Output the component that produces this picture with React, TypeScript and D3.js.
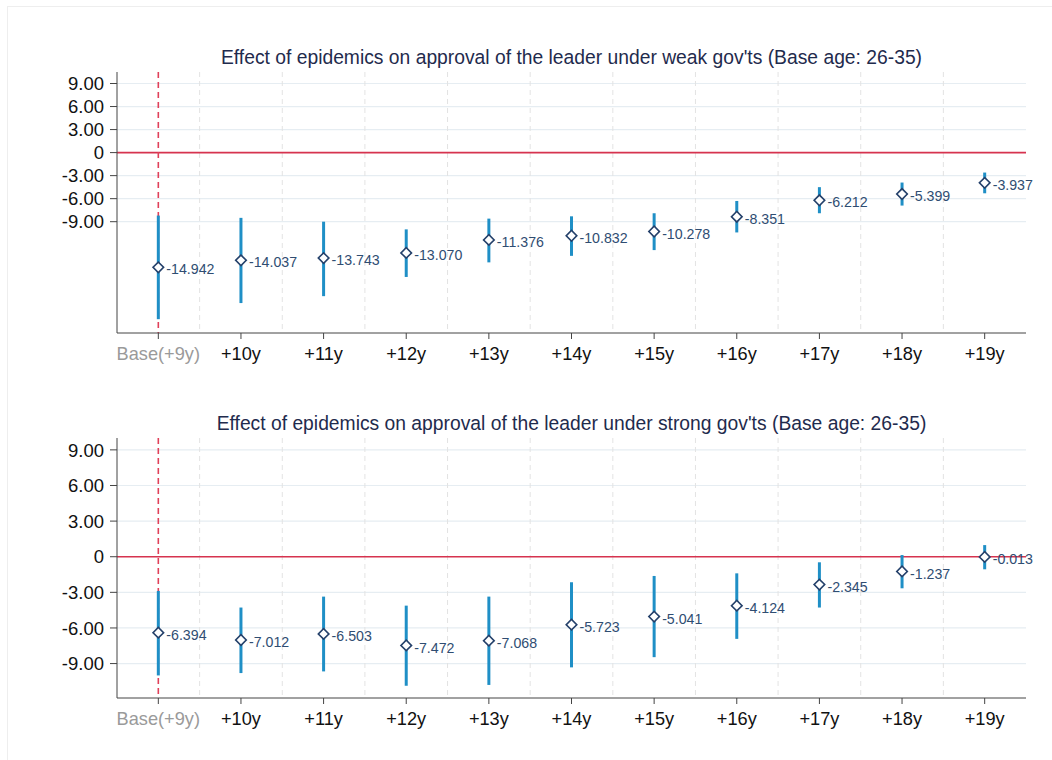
import React from "react";
import * as d3 from "d3";

const categories = ["Base(+9y)", "+10y", "+11y", "+12y", "+13y", "+14y", "+15y", "+16y", "+17y", "+18y", "+19y"];
const yTicks = [9, 6, 3, 0, -3, -6, -9];

const weakTitle = "Effect of epidemics on approval of the leader under weak gov'ts (Base age: 26-35)";
const weakEst = [-14.942, -14.037, -13.743, -13.07, -11.376, -10.832, -10.278, -8.351, -6.212, -5.399, -3.937];
const weakLo = [-21.7, -19.6, -18.7, -16.2, -14.3, -13.45, -12.7, -10.4, -7.9, -6.9, -5.3];
const weakHi = [-8.2, -8.5, -9.0, -10.0, -8.6, -8.3, -7.9, -6.3, -4.5, -3.9, -2.6];

const strongTitle = "Effect of epidemics on approval of the leader under strong gov'ts (Base age: 26-35)";
const strongEst = [-6.394, -7.012, -6.503, -7.472, -7.068, -5.723, -5.041, -4.124, -2.345, -1.237, -0.013];
const strongLo = [-10.0, -9.8, -9.66, -10.87, -10.8, -9.32, -8.46, -6.92, -4.28, -2.66, -1.06];
const strongHi = [-2.88, -4.28, -3.36, -4.12, -3.36, -2.15, -1.62, -1.4, -0.47, 0.14, 0.98];

const FONT = "'Liberation Sans', Arial, Helvetica, sans-serif";

type PanelProps = {
  title: string;
  est: number[];
  lo: number[];
  hi: number[];
  top: number;
  bottom: number;
  domain: [number, number];
  titleY: number;
};

const hy = (s: string) => s.replace(/\u2212/g, "-");

function Panel({ title, est, lo, hi, top, bottom, domain, titleY }: PanelProps) {
  const left = 117;
  const right = 1026;
  const x = d3.scaleLinear().domain([-0.5, categories.length - 0.5]).range([left, right]);
  const y = d3.scaleLinear().domain(domain).range([bottom, top]);
  const diamond = d3.symbol().type(d3.symbolSquare).size(56)();
  const fmt = (v: number) => (v === 0 ? "0" : hy(d3.format(".2f")(v)));
  return (
    <g>
      <text x={571.5} y={titleY} textAnchor="middle" fontSize={19.3} fill="#1f2b4d" fontFamily={FONT}>
        {title}
      </text>
      {yTicks.filter((t) => t !== 0).map((t) => (
        <line key={"hg" + t} x1={left} x2={right} y1={y(t)} y2={y(t)} stroke="#e6edf2" strokeWidth={1.2} />
      ))}
      {categories.slice(0, -1).map((_, i) => (
        <line key={"vg" + i} x1={x(i + 0.5)} x2={x(i + 0.5)} y1={top} y2={bottom} stroke="#e3e3e3" strokeWidth={1} strokeDasharray="5,4" />
      ))}
      <line x1={left} x2={right} y1={y(0)} y2={y(0)} stroke="#d6334f" strokeWidth={1.6} />
      <line x1={x(0)} x2={x(0)} y1={top} y2={bottom} stroke="#e0405a" strokeWidth={1.6} strokeDasharray="6,4" />
      <line x1={left} x2={left} y1={top} y2={bottom} stroke="#444" strokeWidth={1} />
      <line x1={left} x2={right} y1={bottom} y2={bottom} stroke="#444" strokeWidth={1} />
      {yTicks.map((t) => (
        <g key={"yt" + t}>
          <line x1={left - 7} x2={left} y1={y(t)} y2={y(t)} stroke="#444" />
          <text x={left - 13} y={y(t)} dy="0.36em" textAnchor="end" fontSize={18.5} fill="#111" fontFamily={FONT}>
            {fmt(t)}
          </text>
        </g>
      ))}
      {categories.map((c, i) => (
        <g key={"xt" + i}>
          <line x1={x(i)} x2={x(i)} y1={bottom} y2={bottom + 6} stroke="#444" />
          <text x={x(i)} y={bottom + 20} dy="0.36em" textAnchor="middle" fontSize={18.2} fill={i === 0 ? "#9a9a9a" : "#111"} fontFamily={FONT}>
            {c}
          </text>
        </g>
      ))}
      {est.map((v, i) => (
        <g key={"pt" + i}>
          <line x1={x(i)} x2={x(i)} y1={y(lo[i])} y2={y(hi[i])} stroke="#1f8fc6" strokeWidth={3} />
          <path d={diamond || ""} transform={`translate(${x(i)},${y(v)}) rotate(45)`} fill="#fff" stroke="#24406a" strokeWidth={1.6} />
          <text x={x(i) + 8} y={y(v) + 2} dy="0.36em" fontSize={14.2} fill="#2f4d72" fontFamily={FONT}>
            {hy(d3.format(".3f")(v))}
          </text>
        </g>
      ))}
    </g>
  );
}

export default function App() {
  return (
    <svg width={1052} height={760} style={{ position: "absolute", left: 0, top: 0, background: "#fff" }}>
      <rect x={0} y={0} width={1052} height={760} fill="#fff" />
      <rect x={7.5} y={6.5} width={1100} height={800} fill="none" stroke="#eeeeee" />
      <Panel title={weakTitle} est={weakEst} lo={weakLo} hi={weakHi} top={72} bottom={333} domain={[-23.5, 10.5]} titleY={64} />
      <Panel title={strongTitle} est={strongEst} lo={strongLo} hi={strongHi} top={438} bottom={698} domain={[-11.9, 10]} titleY={430} />
    </svg>
  );
}
